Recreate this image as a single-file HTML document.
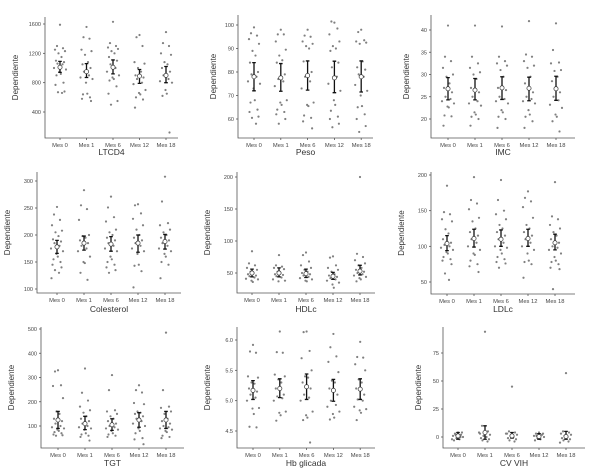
<!DOCTYPE html>
<html><head><meta charset="utf-8"><style>
html,body{margin:0;padding:0;background:#fff;}
svg{display:block;font-family:"Liberation Sans",sans-serif;}
</style></head><body>
<svg id="c" width="600" height="476" viewBox="0 0 600 476"></svg>
<script>
const categories=["Mes 0","Mes 1","Mes 6","Mes 12","Mes 18"];
const titles=["LTCD4","Peso","IMC","Colesterol","HDLc","LDLc","TGT","Hb glicada","CV VIH"];
const yTicks=[[400,800,1200,1600],[60,70,80,90,100],[20,25,30,35,40],[100,150,200,250,300],[50,100,150,200],[50,100,150,200],[100,200,300,400,500],[4.5,5.0,5.5,6.0],[0,25,50,75]];
const tickDecimals=[0,0,0,0,0,0,0,1,0];
const means=[[1010,950,1010,890,900],[78,77.5,78.5,77.5,78],[26.8,26.5,27,26.9,26.8],[178,185,183,185,188],[50,50,49,45,53],[104,111,110,111,105],[125,110,105,125,125],[5.17,5.2,5.23,5.17,5.19],[1,4,1,0.5,0.5]];
const ciLow=[[940,870,920,790,800],[72,71.8,72.3,71.2,71.5],[24.3,24.3,24.4,24.1,24.2],[166,172,170,168,174],[44,44,43,40,47],[94,99,100,100,95],[90,85,82,95,90],[5.02,5.05,5.02,4.99,5.02],[-2,-2,-1,-2,-2]];
const ciHigh=[[1090,1060,1110,980,1020],[84,83.6,84.7,84.6,84.7],[29.3,29.1,29.5,29.4,29.6],[190,198,197,200,201],[56,58,56,51,62],[115,124,123,124,117],[160,140,130,155,160],[5.33,5.36,5.44,5.35,5.36],[4,10,4,3,5]];
const points=[
[[1590,1300,1270,1250,1230,1200,1150,1100,1080,1060,1050,1000,980,950,920,900,800,770,680,670,660],[1560,1420,1400,1250,1230,1180,1080,1050,1000,950,900,870,850,800,650,640,600,580,550],[1630,1340,1300,1280,1260,1230,1200,1150,1100,1050,1000,950,900,870,850,830,750,650,550,500],[1450,1420,1300,1080,1060,1000,950,900,870,850,800,780,700,660,640,600,570,460],[1490,1340,1300,1200,1180,1080,1050,1000,950,900,850,820,800,700,650,620,120]],
[[99,96.5,95.5,94,92,89,87,84,80,79,78,76,75,73,68,67,64,63,61,60.5,58],[98,96,96,93,89.5,87,85,84,79,77,76,74,68,67,66,64,63,62,60,58],[98,95.5,95,93,92,91,90,84.5,80,78,76,73,67,66,65.5,61.5,60.5,59,56],[101,101.5,98.5,96,93,91,90,89,84,82,78,75,72,68,66,63.5,61,60,58,56.5],[98,97,93.5,93,92.5,92,84.5,82,81,79,78,74.5,72,70,65.5,65,62,60,57,54.5]],
[[41,34,33,31.5,30,29.5,28,27,26,25,24.5,24,23.5,22.8,22.6,20.8,20.6,18.5],[41,34,32.5,31.5,30.5,30,29,27,26,25,24,23.5,23,21.5,21,20.5,20,18.5],[40.8,34,33,32.5,32,31,29.5,27,26.5,25,24.5,24,23.5,22,21.5,20.5,20,18],[42,34.5,34,33,32,31.5,29.5,28,26,25,24.5,24,23.5,22,21,20.5,19.5,18],[41.5,35.5,32.7,32.5,31,30.8,29.5,28.5,26,25,24.2,23.2,22.5,21,20.5,19.5,17.2]],
[[252,238,228,218,208,205,198,192,188,185,180,175,170,165,160,155,150,145,140,135,130,120],[283,255,248,228,200,198,195,190,185,180,175,170,160,150,148,130,117],[271,251,233,225,210,205,200,195,190,185,180,175,170,160,155,150,145,140,135,130],[257,255,240,230,218,210,200,195,190,185,180,175,170,165,145,143,133,103],[308,262,222,218,210,205,200,195,190,185,180,175,170,165,160,150,145,120]],
[[84,65,62,58,55,52,50,48,46,45,43,41,40,38,36],[78,62,60,58,56,52,50,48,47,45,43,40,38,37],[82,78,68,62,58,55,52,50,48,46,44,42,40,38,37],[76,74,62,58,55,52,48,46,44,42,40,38,35,32,27],[200,80,75,70,65,62,58,55,52,50,48,46,44,42,40,37]],
[[185,148,145,138,135,124,118,110,105,102,100,98,95,92,90,85,82,80,75,62,53],[197,165,160,152,140,135,125,120,115,110,105,100,95,90,88,80,75,72,64],[193,165,150,145,138,130,125,120,115,110,105,100,98,95,90,85,82,78,76,70],[177,168,163,155,140,130,125,120,115,110,105,100,95,90,80,78,75,56],[190,142,138,130,125,120,115,110,105,100,98,95,90,85,80,78,75,70,68,40]],
[[330,325,268,265,215,160,150,130,120,110,100,95,90,85,80,75,70,65,62,60],[337,237,205,180,165,155,140,130,120,110,100,95,90,85,70,65,60,55,40],[310,248,165,160,150,140,130,120,110,100,95,90,85,80,70,65,60,55],[268,248,238,195,190,160,155,150,140,130,120,110,100,90,80,70,50,45,25],[485,248,180,175,160,150,130,120,110,100,95,90,85,80,75,60,55,50]],
[[5.92,5.81,5.79,5.4,5.38,5.3,5.28,5.2,5.15,5.1,5.05,5.0,4.88,4.87,4.78,4.57,4.56],[6.14,5.8,5.79,5.43,5.4,5.35,5.3,5.2,5.1,5.07,5.04,5.0,4.82,4.8,4.76,4.67],[6.14,6.13,5.82,5.7,5.5,5.4,5.38,5.3,5.2,5.1,5.05,5.0,4.82,4.76,4.72,4.68,4.31],[6.1,5.88,5.73,5.64,5.47,5.33,5.3,5.2,5.1,5.0,4.93,4.9,4.82,4.78,4.72,4.69],[5.97,5.72,5.71,5.6,5.5,5.35,5.3,5.2,5.1,5.02,5.0,4.9,4.86,4.84,4.8,4.68]],
[[4,3,2,1,0,-1,-2,-3,4,2,0,-2],[94,10,5,3,2,1,0,-1,-2,-3,-4,4],[45,5,4,3,2,1,0,-1,-2,-3,-4,3],[4,3,2,1,0,-1,-2,-3,3,1],[57,5,4,3,2,1,0,-1,-2,-3,-4,-5]]
];
// layout: axisX, axisTop, axisBottom, axisRight, firstCatX, catStep, refValA, refPxA, refValB, refPxB, titleY
const layout=[
[45,17,138,178,60,26.5,1600,24,400,112,155],
[238,15,138,373,254,26.8,100,25,60,119,155],
[431,15,138,575,448,27,40,30,20,119,155],
[37,172,293,181,57,27,300,181,100,289,312],
[237,172,293,375,252,27,200,177,50,273,312],
[431,172,294,575,447,27,200,175,50,282,312],
[41,327,448,184,58,27,500,329,100,426,466],
[237,327,448,375,253,26.8,6.0,340,4.5,431,466],
[443,327,448,585,458,27,75,353,0,437,466]
];
const NS="http://www.w3.org/2000/svg";
const svg=document.getElementById('c');
function mk(tag,attrs,parent){const e=document.createElementNS(NS,tag);for(const k in attrs)e.setAttribute(k,attrs[k]);parent.appendChild(e);return e;}
const jit=[0,-3,3,-5,5,-1.5,1.5,-4,4,-2.5,2.5,-6,6,-0.5,0.8,-3.5,3.5,-4.5,4.5,-2,2,-5.5];
titles.forEach((t,p)=>{
  const L=layout[p];
  const g=mk('g',{},svg);
  
  
  const ys=v=>L[7]+(v-L[6])*(L[9]-L[7])/(L[8]-L[6]);
  const xs=i=>L[4]+i*L[5];
  const ax=mk('path',{d:`M${L[0]},${L[1]}V${L[2]}H${L[3]}`,fill:'none',stroke:'#555','stroke-width':0.8},g);
  
  
  yTicks[p].forEach(v=>{
    const y=ys(v);
    mk('line',{x1:L[0]-2,x2:L[0],y1:y,y2:y,stroke:'#555','stroke-width':0.8},g);
    const tx=mk('text',{x:L[0]-4,y:y+2,'text-anchor':'end','font-size':5.5,fill:'#444'},g);
    tx.textContent=v.toFixed(tickDecimals[p]);
    
    
  });
  categories.forEach((c,i)=>{
    const x=xs(i);
    mk('line',{x1:x,x2:x,y1:L[2],y2:L[2]+2,stroke:'#555','stroke-width':0.8},g);
    const tx=mk('text',{x:x,y:L[2]+9,'text-anchor':'middle','font-size':5.8,fill:'#444'},g);
    tx.textContent=c;
    
    
    points[p][i].forEach((v,k)=>{
      const d=mk('circle',{cx:x+jit[k%jit.length],cy:ys(v),r:1.1,fill:'#808080'},g);
      
      
    });
    const lo=ys(ciLow[p][i]),hi=ys(ciHigh[p][i]);
    const ci=mk('path',{d:`M${x},${lo}V${hi}M${x-1.8},${lo}H${x+1.8}M${x-1.8},${hi}H${x+1.8}`,stroke:'#111','stroke-width':1.3,fill:'none'},g);
    
    
    const m=mk('circle',{cx:x,cy:ys(means[p][i]),r:2.1,fill:'#fff',stroke:'#333','stroke-width':0.7},g);
    
    
  });
  const tt=mk('text',{x:(L[0]+L[3])/2,y:L[10],'text-anchor':'middle','font-size':8.5,fill:'#333'},g);
  tt.textContent=t;
  
  
  const yc=(L[1]+L[2])/2, yx=L[0]-(p==1||p==2||p==8?22:27);
  const yt=mk('text',{x:yx,y:yc,'text-anchor':'middle','font-size':8,fill:'#333',transform:`rotate(-90 ${yx} ${yc})`},g);
  yt.textContent='Dependiente';
  
  
});
</script>
</body></html>
